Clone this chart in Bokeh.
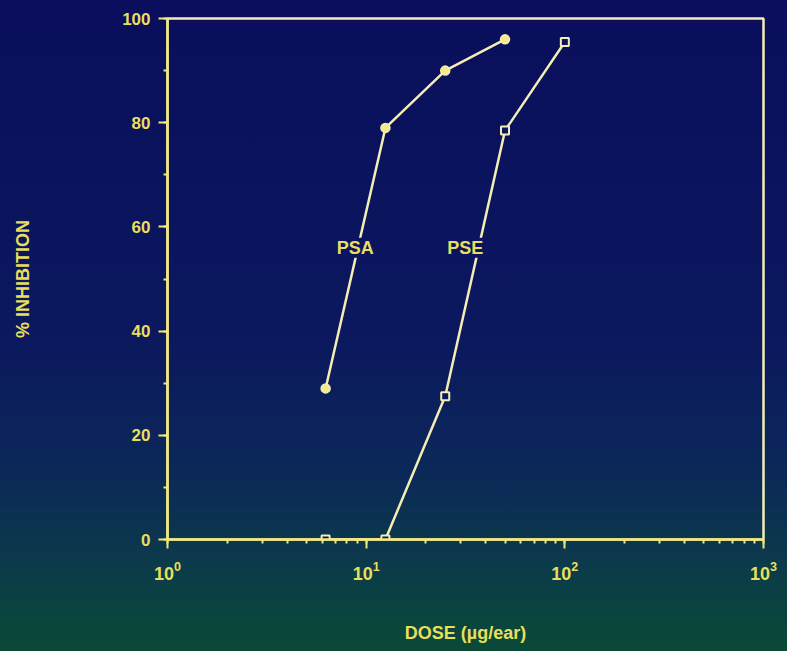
from bokeh.plotting import figure
from bokeh.models import Range1d, Label, SingleIntervalTicker, LogTicker
from bokeh.embed import file_html
from bokeh.resources import INLINE

# ---- data ----
psa_dose = [6.25, 12.5, 25, 50]
psa_inhib = [29, 79, 90, 96]
pse_dose = [6.25, 12.5, 25, 50, 100]
pse_inhib = [0, 0, 27.5, 78.5, 95.5]
series_names = ["PSA", "PSE"]
name_dose = [8.8, 31.5]
name_inhib = [56, 56]

# ---- styling ----
LINE = "#f4eeb4"
AXIS = "#f2e77a"
TEXT = "#e9df5c"
NAVY = "#0b1461"
FONT = "Liberation Sans"

p = figure(width=785, height=649, x_axis_type="log",
           x_range=Range1d(1, 1000), y_range=Range1d(0, 100),
           output_backend="svg", toolbar_location=None,
           min_border_left=167, min_border_right=22,
           min_border_top=18, min_border_bottom=110)

p.background_fill_color = None
p.border_fill_color = None
p.outline_line_color = LINE
p.outline_line_width = 2.5
p.grid.visible = False

p.line(psa_dose, psa_inhib, line_color=LINE, line_width=2.5)
p.scatter(psa_dose, psa_inhib, marker="circle", size=9,
          fill_color="#f3eb8a", line_color=LINE, line_width=1.5)

p.line(pse_dose, pse_inhib, line_color=LINE, line_width=2.5)
p.scatter(pse_dose, pse_inhib, marker="square", size=8,
          fill_color=NAVY, line_color=LINE, line_width=2)

for name, xd, yd in zip(series_names, name_dose, name_inhib):
    p.add_layout(Label(x=xd, y=yd, text=name, text_align="center",
                       text_baseline="middle", text_color=TEXT,
                       text_font=FONT, text_font_style="bold",
                       text_font_size="18px",
                       background_fill_color=NAVY,
                       background_fill_alpha=1.0))

# x axis
xa = p.xaxis[0]
xa.ticker = LogTicker(num_minor_ticks=10)
xa.axis_label = "DOSE (µg/ear)"
xa.axis_line_color = AXIS
xa.axis_line_width = 2.5
xa.major_tick_line_color = AXIS
xa.major_tick_line_width = 2
xa.major_tick_in = 0
xa.major_tick_out = 9
xa.minor_tick_line_color = AXIS
xa.minor_tick_line_width = 2
xa.minor_tick_in = 0
xa.minor_tick_out = 4
xa.major_label_standoff = 12
xa.major_label_text_color = TEXT
xa.major_label_text_font = FONT
xa.major_label_text_font_style = "bold"
xa.major_label_text_font_size = "18px"
xa.axis_label_standoff = 40
xa.axis_label_text_color = TEXT
xa.axis_label_text_font = FONT
xa.axis_label_text_font_style = "bold"
xa.axis_label_text_font_size = "18px"

# y axis
ya = p.yaxis[0]
ya.ticker = SingleIntervalTicker(interval=20, num_minor_ticks=2)
ya.axis_label = "% INHIBITION"
ya.axis_line_color = AXIS
ya.axis_line_width = 2.5
ya.major_tick_line_color = AXIS
ya.major_tick_line_width = 2
ya.major_tick_in = 0
ya.major_tick_out = 9
ya.minor_tick_line_color = AXIS
ya.minor_tick_line_width = 2
ya.minor_tick_in = 0
ya.minor_tick_out = 4
ya.major_label_standoff = 8
ya.major_label_text_color = TEXT
ya.major_label_text_font = FONT
ya.major_label_text_font_style = "bold"
ya.major_label_text_font_size = "17px"
ya.axis_label_standoff = 86
ya.axis_label_text_color = TEXT
ya.axis_label_text_font = FONT
ya.axis_label_text_font_style = "bold"
ya.axis_label_text_font_size = "18px"

html = file_html(p, INLINE)
style = ("<style>html{height:100%;background:linear-gradient(to bottom,"
         "#0a0e5c 0%,#0b185e 52%,#0b2859 72%,#0b3a4b 86%,#0a4a37 100%);}"
         "body{margin:0;background:transparent;overflow:hidden;}</style></head>")
html = html.replace("</head>", style, 1)
open("out.html", "w").write(html)
